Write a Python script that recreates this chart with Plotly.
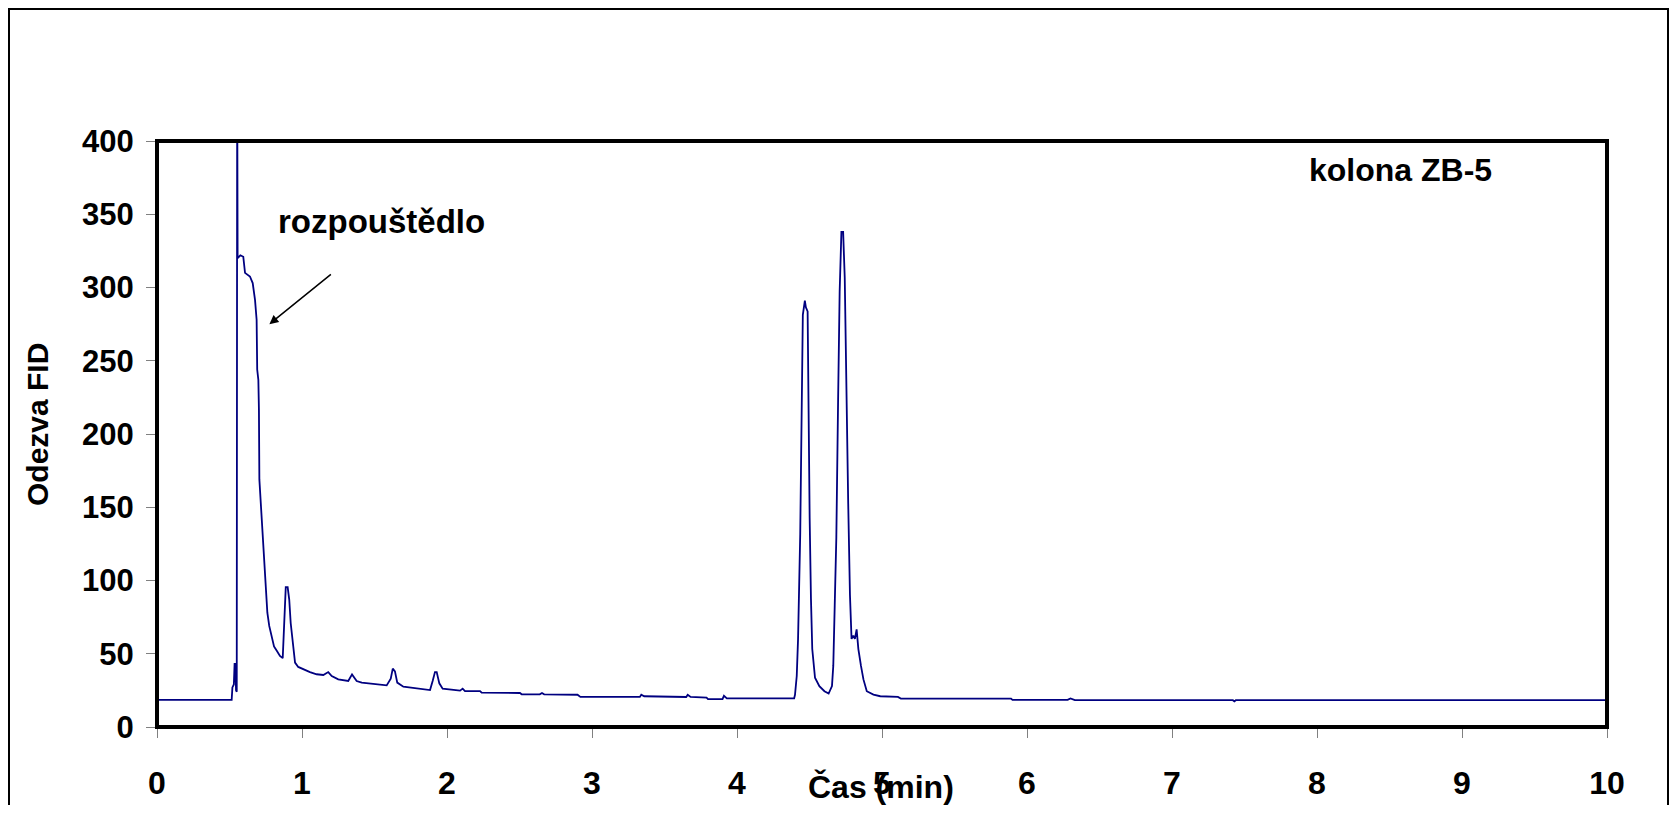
import plotly.graph_objects as go

# Chromatogram data (time in min, FID response)
time_min = [
    0.0, 0.515, 0.52, 0.53, 0.535, 0.54, 0.545, 0.55, 0.553, 0.556,
    0.575, 0.595, 0.607, 0.641, 0.66, 0.676, 0.687, 0.691, 0.699, 0.703,
    0.706, 0.722, 0.738, 0.747, 0.761, 0.774, 0.791, 0.807, 0.826, 0.848,
    0.867, 0.876, 0.888, 0.901, 0.912, 0.922, 0.936, 0.952, 0.974, 1.009,
    1.055, 1.101, 1.147, 1.181, 1.205, 1.25, 1.319, 1.345, 1.377, 1.412,
    1.469, 1.584, 1.612, 1.626, 1.641, 1.657, 1.699, 1.814, 1.883, 1.901,
    1.917, 1.929, 1.947, 1.970, 2.043, 2.09, 2.108, 2.124, 2.228, 2.239,
    2.503, 2.515, 2.64, 2.655, 2.67, 2.90, 2.92, 3.33, 3.34, 3.36,
    3.65, 3.66, 3.68, 3.79, 3.80, 3.90, 3.91, 3.93, 4.394, 4.40,
    4.412, 4.421, 4.436, 4.445, 4.454, 4.468, 4.475, 4.487, 4.492, 4.501,
    4.510, 4.519, 4.538, 4.568, 4.603, 4.632, 4.655, 4.664, 4.674, 4.685,
    4.697, 4.708, 4.720, 4.732, 4.743, 4.755, 4.767, 4.779, 4.790, 4.802,
    4.813, 4.825, 4.837, 4.855, 4.872, 4.895, 4.941, 4.988, 5.11, 5.13,
    5.89, 5.90, 6.28, 6.30, 6.33, 7.42, 7.43, 7.44, 10.0,
]
response_fid = [
    18.5, 18.5, 27, 29, 43, 43, 25, 24, 450, 320,
    322, 321, 310, 307.5, 303, 291.6, 278, 244, 237, 216.6,
    169, 144, 119, 98, 78, 69, 62, 55, 52, 48.5,
    47, 70, 95.5, 95.5, 87, 71, 57.5, 44, 41, 39.3,
    37.5, 36, 35.5, 37.5, 34.8, 32.5, 31.4, 35.9, 31.4, 30.3,
    29.6, 28.4, 33, 39.8, 38, 30.3, 27.5, 26.2, 25.2, 31.4,
    37.5, 37.5, 29.8, 26.2, 25.2, 24.8, 26.2, 24.5, 24.5, 23.4,
    23.2, 22.3, 22.3, 23.2, 22.3, 22, 20.5, 20.5, 22, 21,
    20.5, 22, 20.5, 20, 19, 19, 21.3, 19.5, 19.5, 22,
    34.8, 60, 131.6, 203, 281.4, 291, 286.5, 283.7, 228.4, 143,
    87.8, 53.2, 33.6, 27.9, 24.4, 22.8, 27.9, 41.7, 83.2, 129.3,
    221.5, 297.5, 337.9, 337.9, 306.7, 216.9, 152.3, 90.1, 60.1, 62.4,
    60.1, 66.6, 53.2, 41.7, 32.5, 24.4, 22.1, 21, 20.5, 19.4,
    19.4, 18.5, 18.5, 19.5, 18.3, 18.3, 17.5, 18.3, 18.3,
]

x_ticks = [0, 1, 2, 3, 4, 5, 6, 7, 8, 9, 10]
y_ticks = [0, 50, 100, 150, 200, 250, 300, 350, 400]

FONT = "Liberation Sans, Arial, sans-serif"

fig = go.Figure()
fig.add_trace(go.Scatter(
    x=time_min, y=response_fid, mode="lines",
    line=dict(color="#000080", width=1.8),
    showlegend=False, hoverinfo="skip",
))

# page body has an 8px margin; figure sized so the page is exactly the window
OFF = 8
W, H = 1677 - 2 * OFF, 813 - 2 * OFF
ML, MR, MT, MB = 149, 62, 133, 78
PW = W - ML - MR
PH = H - MT - MB


def px_to_paper_x(px):  # px given in page coordinates
    return (px - OFF - ML) / PW


def px_to_paper_y(py):
    return (H - MB - (py - OFF)) / PH


fig.update_layout(
    width=W, height=H,
    margin=dict(l=ML, r=MR, t=MT, b=MB, pad=0, autoexpand=False),
    paper_bgcolor="white", plot_bgcolor="white",
    font=dict(family=FONT, color="black"),
    xaxis=dict(
        range=[0, 10], tickvals=x_ticks, ticktext=[str(v) for v in x_ticks],
        ticks="outside", ticklen=10, tickwidth=1, tickcolor="#808080",
        showgrid=False, zeroline=False, showline=False, automargin=False,
        tickfont=dict(family=FONT, size=32, color="black", weight="bold"),
        ticklabelstandoff=18,
    ),
    yaxis=dict(
        range=[0, 400], tickvals=y_ticks, ticktext=[str(v) for v in y_ticks],
        ticks="outside", ticklen=10, tickwidth=1, tickcolor="#808080",
        showgrid=False, zeroline=False, showline=False, automargin=False,
        tickfont=dict(family=FONT, size=31, color="black", weight="bold"),
        ticklabelstandoff=6,
    ),
    shapes=[
        # plot frame
        dict(type="rect", xref="paper", yref="paper", x0=0, x1=1, y0=0, y1=1,
             line=dict(color="black", width=4), layer="above"),
        # outer chart border
        dict(type="rect", xref="paper", yref="paper",
             x0=px_to_paper_x(9), x1=px_to_paper_x(1668),
             y0=px_to_paper_y(840), y1=px_to_paper_y(9),
             line=dict(color="black", width=2), layer="above"),
    ],
    annotations=[
        dict(text="kolona ZB-5", xref="paper", yref="paper",
             x=px_to_paper_x(1400), y=px_to_paper_y(170),
             xanchor="center", yanchor="middle", showarrow=False,
             font=dict(family=FONT, size=32, color="black", weight="bold")),
        dict(text="rozpouštědlo", xref="paper", yref="paper",
             x=px_to_paper_x(381), y=px_to_paper_y(221),
             xanchor="center", yanchor="middle", showarrow=False,
             font=dict(family=FONT, size=33, color="black", weight="bold")),
        dict(text="", xref="x", yref="y", x=0.775, y=275, ax=63, ay=-51,
             showarrow=True, arrowhead=2, arrowsize=1.2, arrowwidth=1.5,
             arrowcolor="black"),
        dict(text="Čas (min)", xref="paper", yref="paper",
             x=px_to_paper_x(881), y=px_to_paper_y(787),
             xanchor="center", yanchor="middle", showarrow=False,
             font=dict(family=FONT, size=32, color="black", weight="bold")),
        dict(text="Odezva FID", xref="paper", yref="paper",
             x=px_to_paper_x(37), y=px_to_paper_y(425), textangle=-90,
             xanchor="center", yanchor="middle", showarrow=False,
             font=dict(family=FONT, size=30, color="black", weight="bold")),
    ],
)

fig.write_html("out.html")
